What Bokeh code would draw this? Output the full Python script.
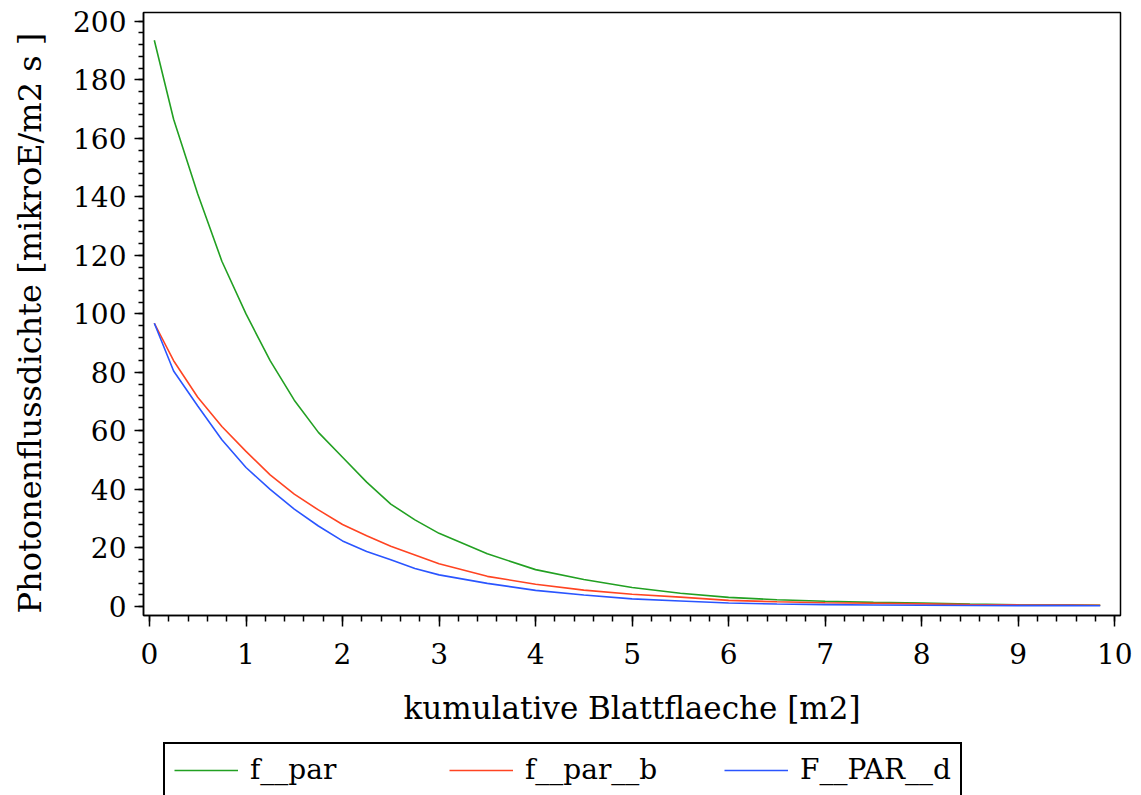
from bokeh.plotting import figure
from bokeh.models import Range1d, SingleIntervalTicker, Legend, LegendItem, Label
from bokeh.layouts import column, row
from bokeh.embed import file_html
from bokeh.resources import INLINE

# ---- data ----
x_vals = [0.05, 0.25, 0.5, 0.75, 1.0, 1.25, 1.5, 1.75, 2.0, 2.25, 2.5, 2.75, 3.0,
          3.5, 4.0, 4.5, 5.0, 5.5, 6.0, 6.5, 7.0, 7.5, 8.0, 8.5, 9.0, 9.5, 9.85]
f_par = [193.5, 166.5, 141.0, 118.0, 100.0, 84.0, 70.5, 59.5, 51.0, 42.5, 35.0, 29.6, 25.0,
         18.0, 12.6, 9.2, 6.5, 4.5, 3.1, 2.3, 1.8, 1.4, 1.2, 0.8, 0.6, 0.5, 0.4]
f_par_b = [96.8, 84.0, 71.5, 61.5, 53.0, 45.0, 38.4, 33.0, 28.0, 24.2, 20.6, 17.6, 14.6,
           10.3, 7.6, 5.6, 4.2, 3.2, 2.1, 1.6, 1.3, 1.1, 0.9, 0.7, 0.55, 0.45, 0.4]
F_PAR_d = [96.8, 80.5, 68.5, 57.0, 47.5, 40.0, 33.3, 27.5, 22.4, 18.8, 16.0, 13.0, 10.8,
           7.9, 5.5, 3.9, 2.6, 1.9, 1.2, 0.85, 0.65, 0.5, 0.42, 0.35, 0.3, 0.28, 0.25]
series_labels = ["f__par", "f__par__b", "F__PAR__d"]
series_colors = ["#22a022", "#ff4422", "#2a55ff"]
x_label = "kumulative Blattflaeche [m2]"
y_label = "Photonenflussdichte [mikroE/m2 s ]"

FONT = "DejaVu Serif"
TICK_FS = "28px"
XLABEL_FS = "31px"
YLABEL_FS = "32px"
LEG_FS = "28px"

TOP_H = 740
YLAB_W = 60
BORDER_BOTTOM = 125   # main chart border below the frame (frame bottom at y = 615)

# ---- y-axis title strip (its frame is aligned with the chart's frame) ----
ylab = figure(width=YLAB_W, height=TOP_H, output_backend="svg", toolbar_location=None,
              x_range=Range1d(0, 1), y_range=Range1d(0, 1),
              x_axis_type=None, y_axis_type=None, min_border=0)
ylab.outline_line_color = None
ylab.xgrid.visible = False
ylab.ygrid.visible = False
ylab.background_fill_color = "white"
ylab.border_fill_color = "white"
# text starts just above the frame bottom and reads upwards
ylab.add_layout(Label(x=29, y=2, x_units="screen", y_units="screen",
                      text=y_label, angle=90, angle_units="deg",
                      text_align="left", text_baseline="middle",
                      text_font=FONT, text_font_size=YLABEL_FS, text_color="black"))

# ---- main chart ----
p = figure(width=1141 - YLAB_W, height=TOP_H, output_backend="svg", toolbar_location=None,
           x_range=Range1d(-0.062, 10.06), y_range=Range1d(-3.08, 203.0),
           min_border_left=143 - YLAB_W, min_border_right=21, min_border_top=12,
           min_border_bottom=BORDER_BOTTOM)
p.background_fill_color = "white"
p.border_fill_color = "white"
p.xgrid.visible = False
p.ygrid.visible = False
p.outline_line_color = "black"
p.outline_line_width = 1.5

renderers = []
for ys, c in zip([f_par, f_par_b, F_PAR_d], series_colors):
    r = p.line(x_vals, ys, line_color=c, line_width=1.6)
    renderers.append(r)

p.xaxis.ticker = SingleIntervalTicker(interval=1, num_minor_ticks=5)
p.yaxis.ticker = SingleIntervalTicker(interval=20, num_minor_ticks=5)
for ax in (p.xaxis[0], p.yaxis[0]):
    ax.axis_line_color = "black"
    ax.axis_line_width = 1.5
    ax.major_tick_line_color = "black"
    ax.minor_tick_line_color = "black"
    ax.major_tick_line_width = 1.5
    ax.minor_tick_line_width = 1.5
    ax.major_tick_in = 0
    ax.minor_tick_in = 0
    ax.major_label_text_font = FONT
    ax.major_label_text_font_size = TICK_FS
    ax.major_label_text_color = "black"
    ax.axis_label_text_font = FONT
    ax.axis_label_text_font_size = XLABEL_FS
    ax.axis_label_text_font_style = "normal"
    ax.axis_label_text_color = "black"

p.xaxis.major_tick_out = 11
p.xaxis.minor_tick_out = 6
p.xaxis.major_label_standoff = 16
p.xaxis.axis_label = x_label
p.xaxis.axis_label_standoff = 23

p.yaxis.major_tick_out = 9
p.yaxis.minor_tick_out = 5
p.yaxis.major_label_standoff = 8

# ---- legend strip below the chart ----
q = figure(width=1141, height=795 - TOP_H, output_backend="svg", toolbar_location=None,
           x_range=Range1d(0, 1), y_range=Range1d(0, 1),
           x_axis_type=None, y_axis_type=None,
           min_border=0, min_border_left=161)
q.outline_line_color = None
q.xgrid.visible = False
q.ygrid.visible = False
q.background_fill_color = "white"
q.border_fill_color = "white"
# proxy lines (outside the visible range) that give the legend its swatches
leg_renderers = [q.line([5, 6], [5, 6], line_color=c, line_width=1.6) for c in series_colors]

legend = Legend(
    items=[LegendItem(label=l, renderers=[r]) for l, r in zip(series_labels, leg_renderers)],
    orientation="horizontal", location="top_left",
    border_line_color="black", border_line_width=2, border_line_alpha=1.0,
    background_fill_color="white", background_fill_alpha=1.0,
    label_text_font=FONT, label_text_font_size=LEG_FS, label_text_color="black",
    glyph_width=64, glyph_height=20, label_standoff=12, label_width=150,
    spacing=49, padding=9, margin=2,
)
q.add_layout(legend)

layout = column(row(ylab, p, spacing=0), q, spacing=0)
open("out.html", "w").write(file_html(layout, INLINE))
